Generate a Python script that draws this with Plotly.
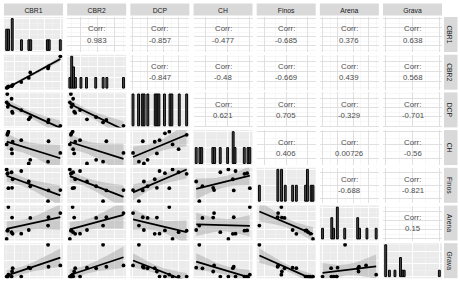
import numpy as np
import plotly.graph_objects as go

# ---------------- data ----------------
variables = ["CBR1", "CBR2", "DCP", "CH", "Finos", "Arena", "Grava"]
cbr1 = [32.0, 40.0, 32.3, 6.1, 8.5, 20.4, 19.4, 8.9, 5.4, 5.7, 8.2, 14.5, 5.0]
cbr2 = [23.2, 35.0, 25.1, 5.6, 6.5, 19.2, 13.9, 7.1, 4.6, 4.9, 5.9, 9.9, 4.0]
dcp = [14.2, 10.4, 16.7, 33.8, 25.8, 19.8, 17.4, 24.4, 45.0, 31.0, 39.8, 27.5, 35.9]
ch = [8.7, 12.0, 16.4, 20.0, 11.8, 9.4, 8.0, 16.2, 18.8, 19.4, 13.4, 16.8, 15.2]
finos = [15.0, 32.5, 32.0, 35.5, 36.0, 38.5, 46.0, 49.5, 58.0, 59.0, 60.5, 62.5, 65.0]
arena = [34.7, 48.4, 43.8, 55.0, 43.5, 43.1, 29.8, 25.6, 29.1, 29.3, 27.4, 25.8, 20.0]
grava = [40.0, 14.0, 12.4, 2.4, 6.4, 10.4, 11.2, 10.6, 0.0, 0.0, 0.0, 0.0, 0.0]

# correlation labels shown in the upper triangle (per row, columns to the right)
corr_cbr1 = ["0.983", "-0.857", "-0.477", "-0.685", "0.376", "0.638"]
corr_cbr2 = ["-0.847", "-0.48", "-0.669", "0.439", "0.568"]
corr_dcp = ["0.621", "0.705", "-0.329", "-0.701"]
corr_ch = ["0.406", "0.00726", "-0.56"]
corr_finos = ["-0.688", "-0.821"]
corr_arena = ["0.15"]

data = [np.array(v, dtype=float) for v in (cbr1, cbr2, dcp, ch, finos, arena, grava)]
corr_rows = [corr_cbr1, corr_cbr2, corr_dcp, corr_ch, corr_finos, corr_arena]
n = len(cbr1)
T975 = 2.200985  # t quantile 0.975, df = n - 2 = 11

# ---------------- layout geometry ----------------
W, H = 460, 282
NV = len(variables)
col_x0 = [4 + i * 63.17 for i in range(NV)]
PW = 59.0
row_y0 = [17 + j * 37.7 for j in range(NV)]
PH = 35.0

FONT = "Liberation Sans, Arial, sans-serif"
GREY_BG = "#EBEBEB"


def nice_step(span, target=4):
    raw = span / target
    mag = 10 ** np.floor(np.log10(raw))
    for m in (1, 2, 2.5, 5, 10):
        if m * mag >= raw:
            return m * mag
    return 10 * mag


def rng(v):
    lo, hi = float(v.min()), float(v.max())
    pad = 0.05 * (hi - lo)
    return [lo - pad, hi + pad]


fig = go.Figure()
layout_axes = {}
shapes = []
annotations = []

for r in range(NV):
    for c in range(NV):
        k = r * NV + c + 1
        xa = "xaxis" if k == 1 else f"xaxis{k}"
        ya = "yaxis" if k == 1 else f"yaxis{k}"
        xr = "x" if k == 1 else f"x{k}"
        yr = "y" if k == 1 else f"y{k}"
        x0 = col_x0[c] / W
        x1 = (col_x0[c] + PW) / W
        y1 = 1 - row_y0[r] / H
        y0 = 1 - (row_y0[r] + PH) / H
        upper = c > r
        major_col = "#DDDDDD" if upper else "white"
        minor_col = "#EFEFEF" if upper else "#F6F6F6"

        xv = data[c]
        xrange = rng(xv)
        xstep = nice_step(xrange[1] - xrange[0])
        if r == c:
            w = (xv.max() - xv.min()) / 29.0
            edges = xv.min() - w / 2 + w * np.arange(31)
            counts, _ = np.histogram(xv, bins=edges)
            centers = (edges[:-1] + edges[1:]) / 2
            m = counts.max()
            yrange = [-0.05 * m, 1.05 * m]
            fig.add_trace(go.Bar(x=centers[counts > 0], y=counts[counts > 0], width=w,
                                 marker=dict(color="#4D4D4D", line=dict(color="black", width=1.0)),
                                 xaxis=xr, yaxis=yr, showlegend=False, hoverinfo="skip"))
        else:
            yv = data[r]
            yrange = rng(yv)
            if not upper:
                slope, icpt = np.polyfit(xv, yv, 1)
                res = yv - (slope * xv + icpt)
                s = np.sqrt((res ** 2).sum() / (n - 2))
                xs = np.linspace(xv.min(), xv.max(), 80)
                fit = slope * xs + icpt
                se = s * np.sqrt(1.0 / n + (xs - xv.mean()) ** 2 / ((xv - xv.mean()) ** 2).sum())
                up, lo = fit + T975 * se, fit - T975 * se
                fig.add_trace(go.Scatter(x=np.concatenate([xs, xs[::-1]]),
                                         y=np.concatenate([up, lo[::-1]]),
                                         fill="toself", fillcolor="rgba(153,153,153,0.4)",
                                         line=dict(width=0), mode="lines",
                                         xaxis=xr, yaxis=yr, showlegend=False, hoverinfo="skip"))
                fig.add_trace(go.Scatter(x=xs, y=fit, mode="lines", line=dict(color="black", width=1.8),
                                         xaxis=xr, yaxis=yr, showlegend=False, hoverinfo="skip"))
                fig.add_trace(go.Scatter(x=xv, y=yv, mode="markers",
                                         marker=dict(color="black", size=3.8),
                                         xaxis=xr, yaxis=yr, showlegend=False, hoverinfo="skip"))
            else:
                lab = corr_rows[r][c - r - 1]
                # invisible anchor trace so the empty panel is created with its grid
                fig.add_trace(go.Scatter(x=[xv.mean()], y=[yv.mean()], mode="markers",
                                         marker=dict(opacity=0), xaxis=xr, yaxis=yr,
                                         showlegend=False, hoverinfo="skip"))
                xm = (xrange[0] + xrange[1]) / 2
                annotations.append(dict(x=xm, y=yrange[0] + 0.66 * (yrange[1] - yrange[0]),
                                        xref=xr, yref=yr, text="Corr:", showarrow=False,
                                        font=dict(family=FONT, size=7.8, color="#4D4D4D")))
                annotations.append(dict(x=xm, y=yrange[0] + 0.34 * (yrange[1] - yrange[0]),
                                        xref=xr, yref=yr, text=lab, showarrow=False,
                                        font=dict(family=FONT, size=7.8, color="#4D4D4D")))
        ystep = nice_step(yrange[1] - yrange[0])
        common = dict(showticklabels=False, ticks="", zeroline=False, showline=False,
                      fixedrange=True, gridwidth=0.9)
        layout_axes[xa] = dict(domain=[x0, x1], anchor=yr, range=xrange, gridcolor=major_col,
                               tick0=0, dtick=xstep,
                               minor=dict(showgrid=True, gridcolor=minor_col, gridwidth=0.5,
                                          tick0=0, dtick=xstep / 2), **common)
        layout_axes[ya] = dict(domain=[y0, y1], anchor=xr, range=yrange, gridcolor=major_col,
                               tick0=0, dtick=ystep,
                               minor=dict(showgrid=True, gridcolor=minor_col, gridwidth=0.5,
                                          tick0=0, dtick=ystep / 2), **common)
        if not upper:
            shapes.append(dict(type="rect", xref="paper", yref="paper",
                               x0=x0, x1=x1, y0=y0, y1=y1, fillcolor=GREY_BG, line=dict(width=0),
                               layer="below"))

# strips (text drawn as shape labels, centred in each strip box)
for c, name in enumerate(variables):
    x0 = col_x0[c] / W
    x1 = (col_x0[c] + PW) / W
    shapes.append(dict(type="rect", xref="paper", yref="paper", x0=x0, x1=x1,
                       y0=1 - 15.5 / H, y1=1 - 3.5 / H, fillcolor="#D9D9D9", line=dict(width=0),
                       label=dict(text=name, textposition="middle center",
                                  font=dict(family=FONT, size=6.8, color="#1A1A1A"))))
for r, name in enumerate(variables):
    y1 = 1 - row_y0[r] / H
    y0 = 1 - (row_y0[r] + PH) / H
    shapes.append(dict(type="rect", xref="paper", yref="paper", x0=444 / W, x1=457.5 / W,
                       y0=y0, y1=y1, fillcolor="#D9D9D9", line=dict(width=0),
                       label=dict(text=name, textposition="middle center", textangle=90,
                                  font=dict(family=FONT, size=6.8, color="#1A1A1A"))))

fig.update_layout(width=W, height=H, margin=dict(l=0, r=0, t=0, b=0, pad=0),
                  paper_bgcolor="white", plot_bgcolor="rgba(0,0,0,0)",
                  shapes=shapes, annotations=annotations, bargap=0, **layout_axes)
fig.write_html("out.html", config={"staticPlot": True},
               post_script="document.body.style.margin='0';document.body.style.padding='0';")
